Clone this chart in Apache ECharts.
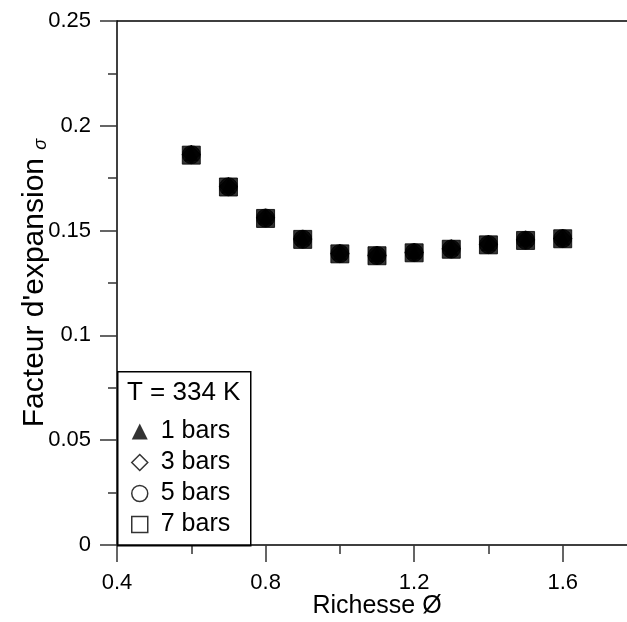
<!DOCTYPE html>
<html>
<head>
<meta charset="utf-8">
<script src="https://cdn.jsdelivr.net/npm/echarts@6/dist/echarts.min.js"></script>
<style>
html,body{margin:0;padding:0;background:#fff;}
#chart{width:627px;height:622px;}
</style>
</head>
<body>
<div id="chart"></div>
<script>
// Data
const richesse = [0.6, 0.7, 0.8, 0.9, 1.0, 1.1, 1.2, 1.3, 1.4, 1.5, 1.6];
const bars1 = [0.1866, 0.1712, 0.1562, 0.1462, 0.1393, 0.1384, 0.1398, 0.1415, 0.1436, 0.1457, 0.1464];
const bars3 = [0.1864, 0.1710, 0.1561, 0.1460, 0.1391, 0.1382, 0.1396, 0.1414, 0.1435, 0.1456, 0.1463];
const bars5 = [0.1862, 0.1709, 0.1560, 0.1459, 0.1390, 0.1381, 0.1395, 0.1412, 0.1433, 0.1454, 0.1462];
const bars7 = [0.1860, 0.1708, 0.1558, 0.1458, 0.1389, 0.1380, 0.1394, 0.1411, 0.1432, 0.1453, 0.1461];
const seriesNames = ['1 bars', '3 bars', '5 bars', '7 bars'];
const xTickLabels = ['0.4', '0.8', '1.2', '1.6'];
const yTickLabels = ['0', '0.05', '0.1', '0.15', '0.2', '0.25'];
const legendTitle = 'T = 334 K';

const FONT = '"Liberation Sans", Arial, sans-serif';
const pair = ys => richesse.map((x, i) => [x, ys[i]]);

const chart = echarts.init(document.getElementById('chart'), null, {renderer: 'canvas'});
const axisLine = {show: true, onZero: false, lineStyle: {color: '#000', width: 1.5}};
chart.setOption({
  animation: false,
  backgroundColor: '#fff',
  grid: {left: 117, top: 21, bottom: 77, right: -10, containLabel: false, outerBoundsMode: 'none'},
  xAxis: [{
    type: 'value', min: 0.4, max: 1.8, interval: 0.4, position: 'bottom',
    name: 'Richesse Ø', nameLocation: 'middle', nameGap: 49, nameMoveOverlap: false,
    nameTextStyle: {fontFamily: FONT, fontSize: 25, color: '#000'},
    axisLine: axisLine,
    axisTick: {show: true, inside: false, length: 17, lineStyle: {color: '#333', width: 1.5}},
    minorTick: {show: true, splitNumber: 2, length: 9, lineStyle: {color: '#333', width: 1.5}},
    axisLabel: {show: true, margin: 27, fontFamily: FONT, fontSize: 22, color: '#000', showMaxLabel: false,
      formatter: v => { const s = xTickLabels.find(t => Math.abs(parseFloat(t) - v) < 1e-9); return s || ''; }},
    splitLine: {show: false}
  }, {
    type: 'value', min: 0.4, max: 1.8, position: 'top',
    axisLine: axisLine, axisTick: {show: false}, axisLabel: {show: false}, splitLine: {show: false}
  }],
  yAxis: {
    type: 'value', min: 0, max: 0.25, interval: 0.05,
    name: "{a|Facteur d'expansion }{s|σ}", nameLocation: 'middle', nameGap: 67, nameRotate: 90, nameMoveOverlap: false,
    nameTextStyle: {fontFamily: FONT, fontSize: 30, color: '#000',
      rich: {a: {fontFamily: FONT, fontSize: 30, color: '#000', lineHeight: 30},
             s: {fontFamily: FONT, fontSize: 18, fontStyle: 'italic', color: '#000', lineHeight: 30, verticalAlign: 'bottom'}}},
    axisLine: axisLine,
    axisTick: {show: true, inside: false, length: 17, lineStyle: {color: '#333', width: 1.5}},
    minorTick: {show: true, splitNumber: 2, length: 9, lineStyle: {color: '#333', width: 1.5}},
    axisLabel: {show: true, margin: 26, fontFamily: FONT, fontSize: 22, color: '#000',
      formatter: v => { const s = yTickLabels.find(t => Math.abs(parseFloat(t) - v) < 1e-9); return s || ''; }},
    splitLine: {show: false}
  },
  legend: {
    orient: 'vertical', left: 126, top: 414, itemWidth: 16, itemHeight: 16, itemGap: 6,
    textStyle: {fontFamily: FONT, fontSize: 25, color: '#000', lineHeight: 25, padding: [0, 0, 0, 8]},
    data: [
      {name: seriesNames[0], icon: 'triangle', itemStyle: {color: '#000', borderWidth: 0}},
      {name: seriesNames[1], icon: 'diamond', itemStyle: {color: '#fff', borderColor: '#000', borderWidth: 1.5}},
      {name: seriesNames[2], icon: 'circle', itemStyle: {color: '#fff', borderColor: '#000', borderWidth: 1.5}},
      {name: seriesNames[3], icon: 'rect', itemStyle: {color: '#fff', borderColor: '#000', borderWidth: 1.5}}
    ]
  },
  graphic: [
    {type: 'rect', left: 117, top: 371, shape: {width: 133, height: 174}, z: 100,
     style: {fill: 'rgba(0,0,0,0)', stroke: '#000', lineWidth: 1.5}, silent: true},
    {type: 'text', left: 127, top: 380, z: 100,
     style: {text: legendTitle, font: '26px "Liberation Sans", Arial, sans-serif', fill: '#000'}}
  ],
  series: [
    {name: seriesNames[3], type: 'scatter', data: pair(bars7), symbol: 'rect', symbolSize: 18,
     itemStyle: {color: '#000', borderColor: '#000', borderWidth: 1}, z: 2},
    {name: seriesNames[2], type: 'scatter', data: pair(bars5), symbol: 'circle', symbolSize: 18,
     itemStyle: {color: '#000', borderColor: '#000', borderWidth: 1}, z: 3},
    {name: seriesNames[1], type: 'scatter', data: pair(bars3), symbol: 'diamond', symbolSize: 18,
     itemStyle: {color: '#000', borderColor: '#000', borderWidth: 1}, z: 4},
    {name: seriesNames[0], type: 'scatter', data: pair(bars1), symbol: 'triangle', symbolSize: 14,
     itemStyle: {color: '#000'}, z: 5}
  ]
});
</script>
</body>
</html>
